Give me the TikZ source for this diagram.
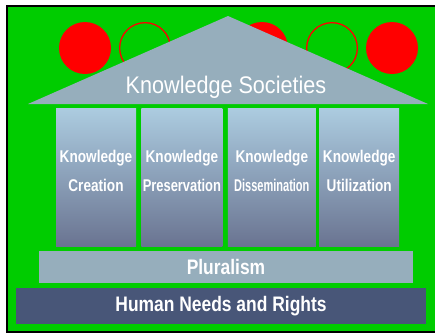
\documentclass[tikz,border=0pt]{standalone}
\usepackage{fontspec}
\setmainfont{Liberation Sans}
\newfontfamily\titlefont[FakeStretch=0.9]{Liberation Sans}
\newfontfamily\barfont[FakeStretch=0.83]{Liberation Sans}
\newfontfamily\pillarfont[FakeStretch=0.8]{Liberation Sans}
\usepackage{tikz}
\usetikzlibrary{positioning}
\definecolor{frameGreen}{RGB}{0,204,0}
\definecolor{roofGray}{RGB}{150,174,188}
\definecolor{pillarTop}{RGB}{172,204,224}
\definecolor{pillarBottom}{RGB}{106,116,145}
\definecolor{baseBlue}{RGB}{72,86,120}

\begin{document}
\begin{tikzpicture}[
  x=1pt, y=-1pt,
  node distance=5pt,
  every node/.style={text=white, inner sep=0pt},
  ball/.style={circle, fill=red, minimum size=52pt},
  ring/.style={circle, draw=red, line width=1.3pt, minimum size=50.7pt},
  pillar/.style={top color=pillarTop, bottom color=pillarBottom,
    minimum width=80pt, minimum height=138pt},
  pillartext/.style={align=center, font=\pillarfont\bfseries\fontsize{17}{29}\selectfont},
  bar/.style={minimum height=32pt, font=\barfont\bfseries\fontsize{21}{24}\selectfont},
]
\useasboundingbox (0,0) rectangle (435,333);
% frame
\fill[black] (6,5) rectangle (435,333);
\fill[frameGreen] (8,7) rectangle (435,331);
% circles behind the roof
\node[ball] (ball1) at (85,48) {};
\node[ring] (ring1) at (145,48) {};
\node[ball] (ball2) at (262,48) {};
\node[ring] (ring2) at (332,48) {};
\node[ball] (ball3) at (392,48) {};
% roof
\fill[roofGray] (28,104) -- (228,16) -- (428,104) -- cycle;
\node[font=\titlefont\fontsize{24}{28}\selectfont] (title) at (226,87) {Knowledge Societies};
% pillars
\node[pillar] (create) at (96,177) {};
\node[pillar, minimum width=81pt, right=5pt of create] (preserve) {};
\node[pillar, minimum width=88pt, right=5pt of preserve] (dissem) {};
\node[pillar, right=3pt of dissem] (utilize) {};
\node[pillartext] (createtext) at ([yshift=6pt]create.center) {Knowledge\\Creation};
\node[pillartext] (preservetext) at ([yshift=6pt]preserve.center) {Knowledge\\\scalebox{0.95}[1]{Preservation}};
\node[pillartext] (dissemtext) at ([yshift=6pt]dissem.center) {Knowledge\\\scalebox{0.81}[1]{Dissemination}};
\node[pillartext] (utilizetext) at ([yshift=6pt]utilize.center) {Knowledge\\Utilization};
% foundation
\node[bar, fill=roofGray, minimum width=374pt] (plural) at (226,267) {Pluralism};
\node[bar, fill=baseBlue, minimum width=410pt, minimum height=36pt] (rights) at (221,306) {Human Needs and Rights};
\end{tikzpicture}
\end{document}
